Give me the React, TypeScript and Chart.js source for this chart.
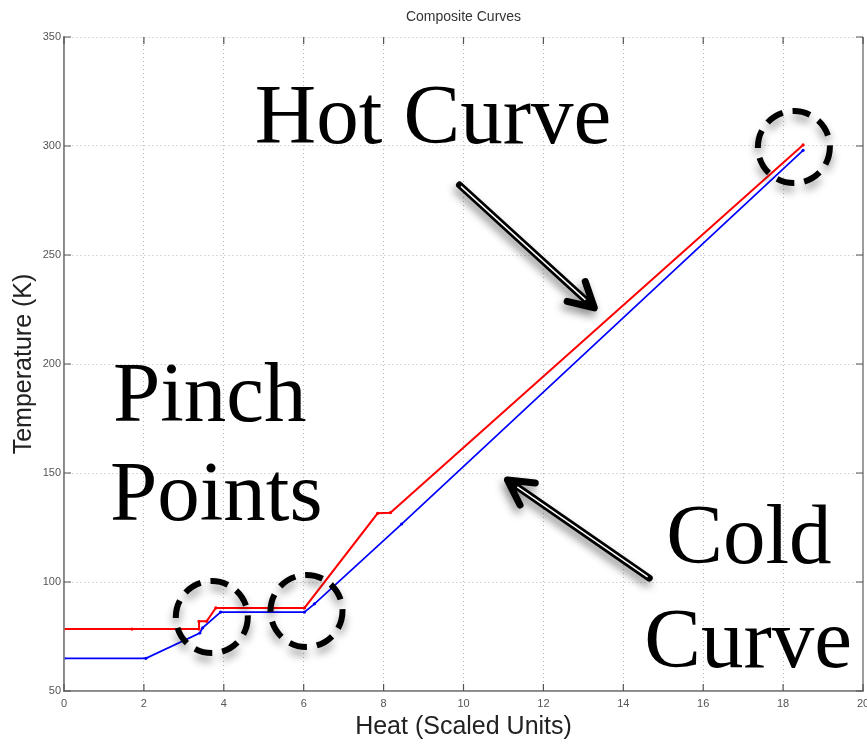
import { useEffect, useRef } from 'react';
import { Chart, registerables } from 'chart.js';

Chart.register(...registerables);

// Hot composite curve: cumulative heat vs temperature
const hotHeat = [0, 1.7, 3.38, 3.38, 3.57, 3.8, 6.02, 7.85, 8.17, 18.5];
const hotTemp = [78.4, 78.4, 78.4, 82, 82, 88.1, 88.1, 131.5, 131.8, 300.5];

// Cold composite curve
const coldHeat = [0, 2.05, 3.4, 3.47, 3.92, 6.02, 6.27, 8.45, 18.5];
const coldTemp = [65, 65, 76.6, 79, 86.2, 86.2, 90, 126.6, 298];

// Axis ticks
const heatTickValues = [0, 2, 4, 6, 8, 10, 12, 14, 16, 18, 20];
const tempTickValues = [50, 100, 150, 200, 250, 300, 350];

// Callout words, anchored (left edge, baseline) in data units
const calloutText = ['Hot Curve', 'Pinch', 'Points', 'Cold', 'Curve'];
const calloutHeat = [4.775, 1.225, 1.15, 15.075, 14.525];
const calloutTemp = [301.4, 173.9, 128.4, 108.7, 61];

// Dashed rings around the pinch regions (centres in data units)
const ringHeat = [3.7, 6.07, 18.27];
const ringTemp = [83.9, 86.7, 299.5];

// Pointer arrows: tail -> tip, in data units
const arrowTailHeat = [9.9, 14.65];
const arrowTailTemp = [282.1, 101.8];
const arrowTipHeat = [13.275, 11.1];
const arrowTipTemp = [225.7, 146.8];

const toPoints = (xs: number[], ys: number[]) => xs.map((x, i) => ({ x, y: ys[i] }));

function drawArrow(ctx: CanvasRenderingContext2D, x1: number, y1: number, x2: number, y2: number) {
  const ang = Math.atan2(y2 - y1, x2 - x1);
  const headLen = 28;
  const spread = 0.5;
  ctx.save();
  ctx.shadowColor = 'rgba(0,0,0,0.45)';
  ctx.shadowBlur = 8;
  ctx.shadowOffsetX = -2;
  ctx.shadowOffsetY = 5;
  ctx.strokeStyle = '#000';
  ctx.lineWidth = 7;
  ctx.lineCap = 'round';
  ctx.lineJoin = 'round';
  ctx.beginPath();
  ctx.moveTo(x1, y1);
  ctx.lineTo(x2 - 2 * Math.cos(ang), y2 - 2 * Math.sin(ang));
  ctx.moveTo(x2 - headLen * Math.cos(ang - spread), y2 - headLen * Math.sin(ang - spread));
  ctx.lineTo(x2, y2);
  ctx.lineTo(x2 - headLen * Math.cos(ang + spread), y2 - headLen * Math.sin(ang + spread));
  ctx.stroke();
  ctx.restore();

  ctx.save();
  ctx.strokeStyle = '#fff';
  ctx.lineWidth = 1.4;
  ctx.beginPath();
  ctx.moveTo(x1 + 2 * Math.cos(ang), y1 + 2 * Math.sin(ang));
  ctx.lineTo(x2 - 12 * Math.cos(ang), y2 - 12 * Math.sin(ang));
  ctx.stroke();
  ctx.restore();
}

const overlayPlugin = {
  id: 'overlay',
  afterDatasetsDraw(chart: any) {
    const { ctx, chartArea: a, scales } = chart;
    const xs = scales.x;
    const ys = scales.y;
    ctx.save();

    // solid frame on left, bottom and right
    ctx.strokeStyle = '#888';
    ctx.lineWidth = 1.6;
    ctx.setLineDash([]);
    ctx.beginPath();
    ctx.moveTo(a.left, a.top);
    ctx.lineTo(a.left, a.bottom);
    ctx.lineTo(a.right, a.bottom);
    ctx.lineTo(a.right, a.top);
    ctx.stroke();

    // inward tick marks on all four sides
    ctx.strokeStyle = '#555';
    ctx.lineWidth = 1.2;
    const tl = 7;
    ctx.beginPath();
    heatTickValues.forEach((v) => {
      const px = xs.getPixelForValue(v);
      ctx.moveTo(px, a.bottom);
      ctx.lineTo(px, a.bottom - tl);
      ctx.moveTo(px, a.top);
      ctx.lineTo(px, a.top + tl);
    });
    tempTickValues.forEach((v) => {
      const py = ys.getPixelForValue(v);
      ctx.moveTo(a.left, py);
      ctx.lineTo(a.left + tl, py);
      ctx.moveTo(a.right, py);
      ctx.lineTo(a.right - tl, py);
    });
    ctx.stroke();

    // dashed rings with soft shadow
    ringHeat.forEach((h, i) => {
      const cx = xs.getPixelForValue(h);
      const cy = ys.getPixelForValue(ringTemp[i]);
      ctx.save();
      ctx.shadowColor = 'rgba(0,0,0,0.4)';
      ctx.shadowBlur = 8;
      ctx.shadowOffsetX = 0;
      ctx.shadowOffsetY = 6;
      ctx.strokeStyle = '#000';
      ctx.lineWidth = 6;
      ctx.setLineDash([18, 10]);
      ctx.beginPath();
      ctx.arc(cx, cy, 36, 0, Math.PI * 2);
      ctx.stroke();
      ctx.restore();
    });

    // arrows
    arrowTailHeat.forEach((h, i) => {
      drawArrow(
        ctx,
        xs.getPixelForValue(h),
        ys.getPixelForValue(arrowTailTemp[i]),
        xs.getPixelForValue(arrowTipHeat[i]),
        ys.getPixelForValue(arrowTipTemp[i])
      );
    });

    // callout words
    ctx.fillStyle = '#000';
    ctx.font = '85px "Liberation Serif", "Times New Roman", serif';
    ctx.textAlign = 'left';
    ctx.textBaseline = 'alphabetic';
    calloutText.forEach((t, i) => {
      ctx.fillText(t, xs.getPixelForValue(calloutHeat[i]), ys.getPixelForValue(calloutTemp[i]));
    });

    ctx.restore();
  },
};

export default function App() {
  const canvasRef = useRef<HTMLCanvasElement | null>(null);

  useEffect(() => {
    document.body.style.margin = '0';
    const canvas = canvasRef.current;
    if (!canvas) return;
    const chart = new Chart(canvas, {
      type: 'scatter',
      data: {
        datasets: [
          {
            label: 'Hot',
            data: toPoints(hotHeat, hotTemp),
            showLine: true,
            borderColor: '#ff0000',
            backgroundColor: '#ff0000',
            borderWidth: 2,
            pointRadius: 1.6,
            pointBorderWidth: 0,
          },
          {
            label: 'Cold',
            data: toPoints(coldHeat, coldTemp),
            showLine: true,
            borderColor: '#0000ff',
            backgroundColor: '#0000ff',
            borderWidth: 1.7,
            pointRadius: 1.6,
            pointBorderWidth: 0,
          },
        ],
      },
      options: {
        animation: false,
        responsive: false,
        maintainAspectRatio: false,
        layout: { padding: { left: 0, right: 3, top: 0, bottom: 0 } },
        plugins: {
          legend: { display: false },
          tooltip: { enabled: false },
          title: {
            display: true,
            text: 'Composite Curves',
            fullSize: false,
            color: '#333',
            font: { family: '"Liberation Sans", Arial, sans-serif', size: 14, weight: 'normal', lineHeight: 1.2 },
            padding: { top: 8.5, bottom: 11.7 },
          },
        },
        scales: {
          x: {
            type: 'linear',
            min: 0,
            max: 20,
            afterBuildTicks: (scale: any) => {
              scale.ticks = heatTickValues.map((value) => ({ value }));
            },
            afterFit: (scale: any) => {
              scale.height = 51;
              scale.paddingLeft = 0;
              scale.paddingRight = 0;
            },
            grid: {
              color: '#b4b4b4',
              lineWidth: 1,
              drawTicks: false,
            },
            border: { display: true, color: '#888', width: 1.5, dash: [1, 3] },
            ticks: {
              color: '#555',
              padding: 6,
              maxRotation: 0,
              autoSkip: false,
              font: { family: '"Liberation Sans", Arial, sans-serif', size: 11 },
            },
            title: {
              display: true,
              text: 'Heat (Scaled Units)',
              color: '#222',
              font: { family: '"Liberation Sans", Arial, sans-serif', size: 25, lineHeight: 1.2 },
              padding: { top: 0, bottom: 0 },
            },
          },
          y: {
            type: 'linear',
            min: 50,
            max: 350,
            afterBuildTicks: (scale: any) => {
              scale.ticks = tempTickValues.map((value) => ({ value }));
            },
            afterFit: (scale: any) => {
              scale.width = 64;
              scale.paddingTop = 0;
              scale.paddingBottom = 0;
            },
            grid: {
              color: '#b4b4b4',
              lineWidth: 1,
              drawTicks: false,
            },
            border: { display: true, color: '#888', width: 1.5, dash: [1, 3] },
            ticks: {
              color: '#555',
              padding: 3,
              autoSkip: false,
              font: { family: '"Liberation Sans", Arial, sans-serif', size: 11 },
            },
            title: {
              display: true,
              text: 'Temperature (K)',
              color: '#222',
              font: { family: '"Liberation Sans", Arial, sans-serif', size: 25, lineHeight: 1.2 },
              padding: { top: 9.5, bottom: 0 },
            },
          },
        },
      },
      plugins: [overlayPlugin],
    } as any);
    return () => chart.destroy();
  }, []);

  return (
    <div style={{ position: 'absolute', left: 0, top: 0, width: 867, height: 742, background: '#fff' }}>
      <canvas ref={canvasRef} width={867} height={742} />
    </div>
  );
}
